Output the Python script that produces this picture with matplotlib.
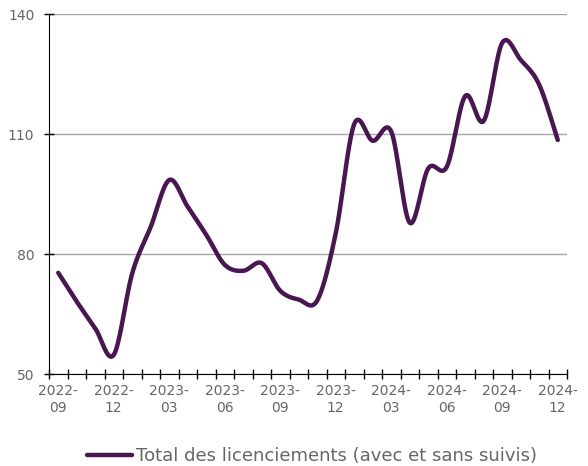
import numpy as np
import matplotlib
matplotlib.use('Agg')
import matplotlib.pyplot as plt

mois = ['2022-09', '2022-10', '2022-11', '2022-12', '2023-01', '2023-02', '2023-03',
        '2023-04', '2023-05', '2023-06', '2023-07', '2023-08', '2023-09', '2023-10',
        '2023-11', '2023-12', '2024-01', '2024-02', '2024-03', '2024-04', '2024-05',
        '2024-06', '2024-07', '2024-08', '2024-09', '2024-10', '2024-11', '2024-12']
licenciements = [75.3, 68.1, 61.4, 54.8, 75.2, 86.8, 98.5, 91.8, 84.8, 77.3, 75.8, 77.7,
                 70.8, 68.6, 68.4, 85.2, 112.5, 108.3, 110.6, 87.8, 101.4, 101.8, 119.5,
                 113.3, 132.8, 128.5, 122.3, 108.5]
etiquettes_y = [50, 80, 110, 140]

COULEUR = '#4a1553'
GRIS = '#666666'


def lissage(x, y, n=20):
    # courbe lissée façon Excel (Catmull-Rom) passant par chaque point
    x = np.asarray(x, float)
    y = np.asarray(y, float)
    px = np.concatenate([[x[0]], x, [x[-1]]])
    py = np.concatenate([[y[0]], y, [y[-1]]])
    xs, ys = [], []
    t = np.linspace(0, 1, n, endpoint=False)
    for i in range(1, len(px) - 2):
        p0x, p1x, p2x, p3x = px[i - 1:i + 3]
        p0y, p1y, p2y, p3y = py[i - 1:i + 3]
        for p0, p1, p2, p3, out in ((p0x, p1x, p2x, p3x, xs), (p0y, p1y, p2y, p3y, ys)):
            out.extend(0.5 * ((2 * p1) + (-p0 + p2) * t + (2 * p0 - 5 * p1 + 4 * p2 - p3) * t ** 2
                              + (-p0 + 3 * p1 - 3 * p2 + p3) * t ** 3))
    xs.append(x[-1])
    ys.append(y[-1])
    return np.array(xs), np.array(ys)


fig = plt.figure(figsize=(5.88, 4.66), dpi=100)
ax = fig.add_axes([49 / 588, 1 - 374 / 466, (567 - 49) / 588, 360 / 466])

pos = np.arange(len(mois))
xs, ys = lissage(pos, licenciements)
ax.plot(xs, ys, color=COULEUR, linewidth=3.2, solid_capstyle='round',
        label='Total des licenciements (avec et sans suivis)')

ax.set_xlim(-0.5, len(mois) - 0.5)
ax.set_ylim(50, 140)
ax.set_yticks(etiquettes_y)
ax.grid(axis='y', color='#a6a6a6', linewidth=1)
ax.set_axisbelow(True)

ax.set_xticks(np.arange(-0.5, len(mois), 1))
ax.set_xticklabels([])
ax.tick_params(axis='x', which='major', direction='inout', length=7, width=1, color='black')
ax.set_xticks(pos[::3], minor=True)
ax.set_xticklabels([m.replace('-', '-\n') for m in mois[::3]], minor=True, linespacing=1.3)
ax.tick_params(axis='x', which='minor', length=0, pad=7, labelsize=10, labelcolor=GRIS)
ax.tick_params(axis='y', direction='inout', length=7, width=1, color='black',
               labelsize=10, labelcolor=GRIS, pad=7)

for s in ['top', 'right']:
    ax.spines[s].set_visible(False)
ax.spines['left'].set_color('black')
ax.spines['bottom'].set_color('black')

leg = fig.legend(loc='center', bbox_to_anchor=(0.53, 1 - 456 / 466), frameon=False,
                 fontsize=13, handlelength=2.5, handletextpad=0.2)
for t in leg.get_texts():
    t.set_color(GRIS)

fig.savefig('out.png', dpi=100)
